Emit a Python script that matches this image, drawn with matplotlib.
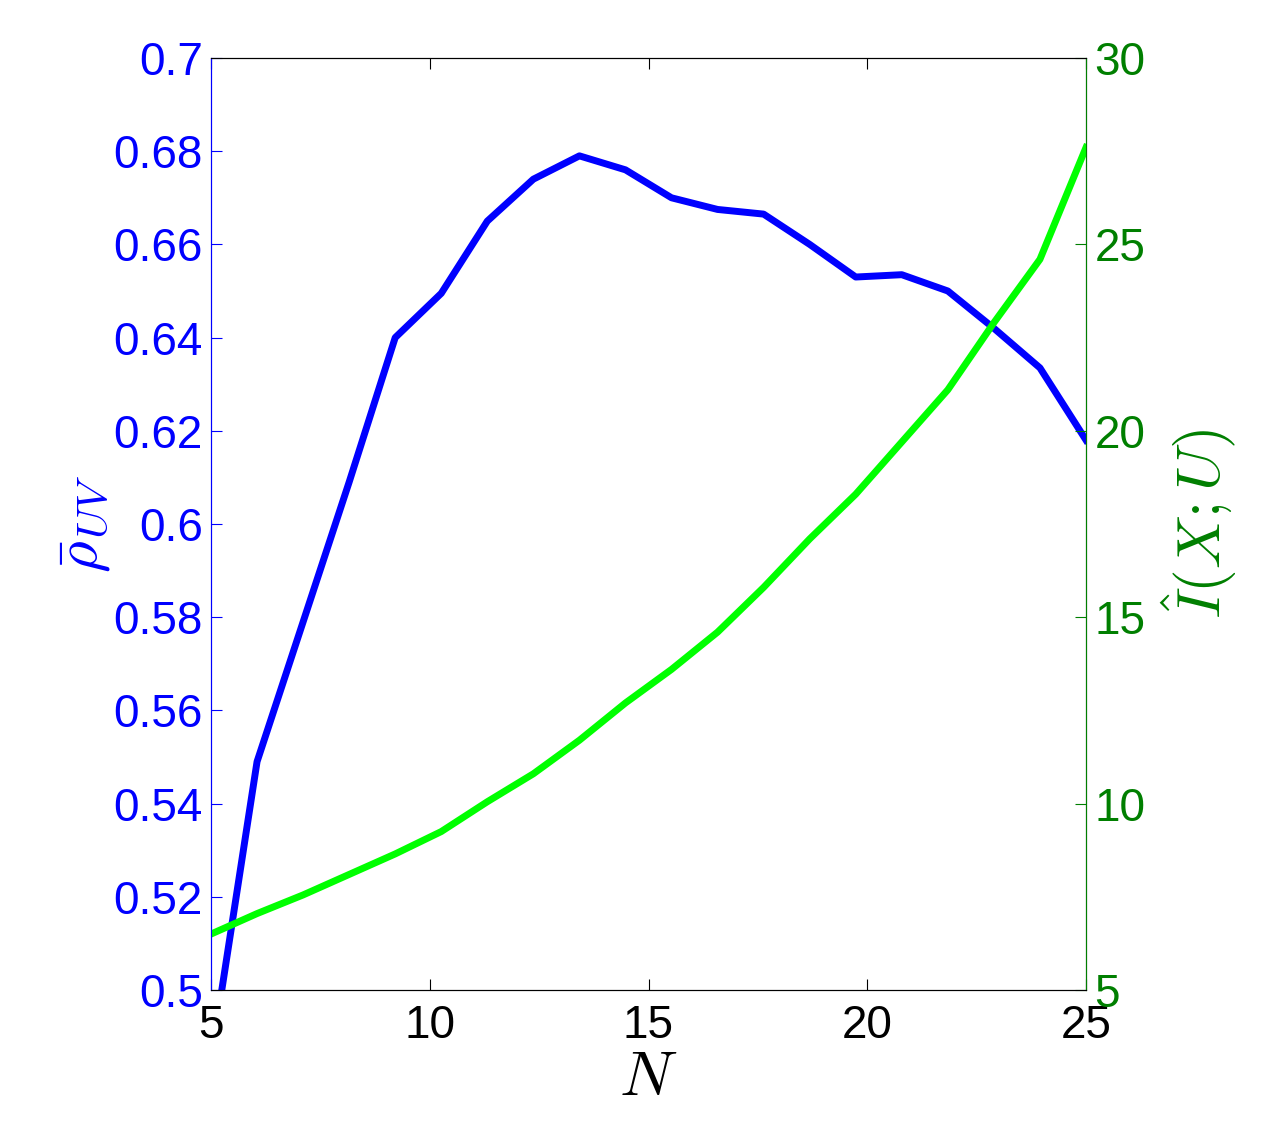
import matplotlib.pyplot as plt
import numpy as np

# N values (20 evenly spaced points between 5 and 25)
n_vals = np.linspace(5, 25, 20)
rho_vals = [0.485, 0.549, 0.579, 0.609, 0.640, 0.6495, 0.665, 0.674, 0.679, 0.676,
            0.670, 0.6675, 0.6665, 0.660, 0.653, 0.6535, 0.650, 0.642, 0.6335, 0.618]
info_vals = [6.5, 7.05, 7.55, 8.1, 8.65, 9.25, 10.05, 10.8, 11.7, 12.7,
             13.6, 14.6, 15.8, 17.1, 18.3, 19.7, 21.1, 22.9, 24.6, 26.2, ]
info_vals = info_vals[:19] + [27.6]
info_vals[15:19] = [19.7, 21.1, 22.9, 24.6]
info_vals = info_vals[:16] + [21.1, 22.9, 24.6, 27.6]

plt.rcParams['font.family'] = ['Arial', 'Liberation Sans', 'DejaVu Sans']
plt.rcParams['mathtext.fontset'] = 'cm'

fig = plt.figure(figsize=(12.82, 11.41), dpi=100)
ax1 = fig.add_axes([211 / 1282, 1 - 990 / 1141, 875 / 1282, 932 / 1141])
ax1.plot(n_vals, rho_vals, color='#0000ff', lw=5)
ax1.set_xlim(5, 25)
ax1.set_ylim(0.5, 0.7)
ax1.set_xticks([5, 10, 15, 20, 25])
ax1.set_yticks(np.arange(0.5, 0.701, 0.02))
ax1.set_yticklabels(['0.5', '0.52', '0.54', '0.56', '0.58', '0.6', '0.62',
                     '0.64', '0.66', '0.68', '0.7'])
ax1.tick_params(axis='y', colors='#0000ff', labelsize=33, direction='in', length=8, pad=6)
ax1.tick_params(axis='x', labelsize=33, direction='in', length=8, top=True, pad=10)
ax1.spines['left'].set_color('#0000ff')
ax1.set_xlabel('$N$', fontsize=46, labelpad=0)
ax1.set_ylabel(r'$\bar{\rho}_{UV}$', fontsize=44, color='#0000ff', labelpad=0)

ax2 = ax1.twinx()
ax2.plot(n_vals, info_vals, color='#00ff00', lw=5)
ax2.set_ylim(5, 30)
ax2.set_yticks([5, 10, 15, 20, 25, 30])
ax2.tick_params(axis='y', colors='#007f00', labelsize=33, direction='in', length=8, pad=6)
ax2.spines['right'].set_color('#007f00')
ax2.spines['left'].set_color('#0000ff')
ax2.set_ylabel(r'$\hat{I}(X;U)$', fontsize=44, color='#007f00', labelpad=10)

fig.savefig('out.png', dpi=100)
